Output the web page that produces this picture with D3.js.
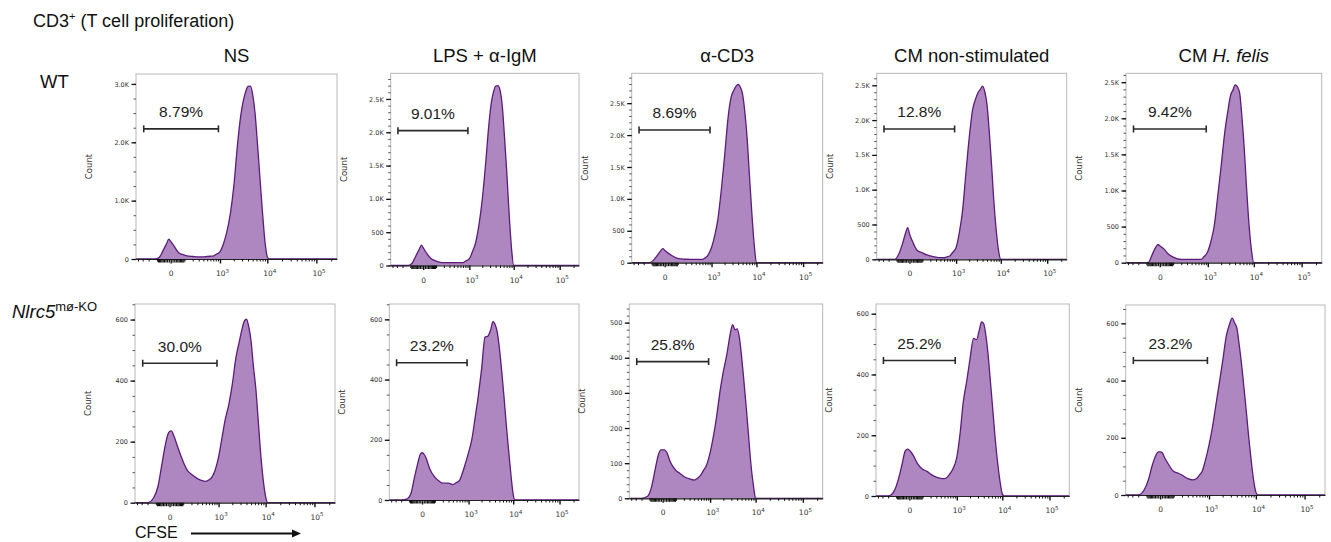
<!DOCTYPE html>
<html>
<head>
<meta charset="utf-8">
<script src="https://cdn.jsdelivr.net/npm/d3@7"></script>
<style>
  body { margin: 0; background: #fff; }
  svg { display: block; font-family: "Liberation Sans", Arial, sans-serif; }
</style>
</head>
<body>
<div class="chart"></div>
<script>
// ----------------------------
// data
// ----------------------------
var conditions = ["NS", "LPS + α-IgM", "α-CD3", "CM non-stimulated", "CM H. felis"];
var genotypes = ["WT", "Nlrc5"];

// CFSE intensity at which each histogram count was read
var cfseBins = [-450, -200, -120, -80, -50, -25, -10, 0, 10, 25, 50, 100, 150, 200, 300, 400, 500, 600, 700, 800,
  1000, 1200, 1400, 1700, 2000, 2400, 2800, 3200, 3600, 4000, 4500, 5000, 5600, 6300, 7000, 8000, 9000, 10000, 11000, 262144];

// WT row
var wtNS  = [0,0,0,24,134,254,339,302,258,195, 108,67,48,43,36,38,43,47,51,77, 128,267,447,790,1239,1954,2443,2717,2875,2956, 2962,2815,2495,1960,1436,780,283,40,0,0];
var wtLPS = [0,0,0,40,140,240,305,268,225,171, 110,67,48,43,43,43,43,43,43,64, 103,218,338,635,995,1550,2090,2440,2610,2690, 2700,2633,2400,1920,1433,740,240,0,0,0];
var wtCD3 = [0,0,0,40,111,181,220,196,172,142, 109,66,59,54,52,52,52,52,76,108, 237,436,672,1166,1670,2280,2594,2700,2766,2794, 2746,2640,2360,1940,1400,745,260,0,0,0];
var wtCM  = [0,0,0,66,200,368,455,369,298,222, 131,92,62,50,31,23,22,36,47,90, 170,395,670,1255,1730,2150,2305,2400,2446,2489, 2400,2222,1840,1350,870,400,110,0,0,0];
var wtHf  = [0,0,0,4,107,209,252,234,216,188, 131,77,53,46,46,46,46,46,46,79, 156,311,506,952,1343,1810,2100,2317,2390,2462, 2435,2355,2020,1565,1053,490,150,0,0,0];

// Nlrc5 KO row
var koNS  = [0,0,18,53,120,187,222,233,235,219, 185,134,104,93,79,72,70,75,84,100, 150,215,271,325,387,476,525,566,595,601, 574,528,445,370,273,150,69,20,0,0];
var koLPS = [0,0,4,23,76,124,152,157,153,139, 105,75,62,56,56,51,58,65,88,112, 158,203,266,350,434,541,545,565,592,584, 556,503,429,343,257,160,78,18,0,0];
var koCD3 = [0,0,6,32,80,125,138,138,138,130, 103,79,70,62,55,52,58,67,80,91, 130,179,230,308,361,411,464,494,480,482, 456,404,335,259,185,92,35,0,0,0];
var koCM  = [0,0,17,53,99,148,154,151,144,132, 109,88,81,72,62,58,57,63,75,88, 127,209,306,381,451,519,515,546,573,567, 523,461,373,281,196,107,46,7,0,0];
var koHf  = [0,0,20,55,103,138,151,151,149,132, 110,82,76,70,57,53,57,70,84,113, 174,238,306,393,467,556,596,618,601,585, 525,462,382,296,213,120,50,10,0,0];

var allSeries = [wtNS, wtLPS, wtCD3, wtCM, wtHf, koNS, koLPS, koCD3, koCM, koHf];

// proliferation gate
var gatePercents = ["8.79%", "9.01%", "8.69%", "12.8%", "9.42%", "30.0%", "23.2%", "25.8%", "25.2%", "23.2%"];
var gateRange = [-280, 920];
var gateCounts = [2230, 2024, 2080, 1872, 1852, 457, 456, 389, 446, 470];

// axis ticks
var xMajorTicks = [0, 1000, 10000, 100000];
var xZeroTicks = [-90, -80, -70, -60, -50, -40, -30, -20, -10, 10, 20, 30, 40, 50, 60, 70, 80, 90];
var xMinorTicks = [-400, -300, -200, -100, 100, 200, 300, 400, 500, 600, 700, 800, 900,
  2000, 3000, 4000, 5000, 6000, 7000, 8000, 9000,
  20000, 30000, 40000, 50000, 60000, 70000, 80000, 90000, 200000];
var yMajorSteps = [1000, 500, 500, 500, 500, 200, 200, 100, 200, 200];
var yMinorSteps = [250, 100, 100, 100, 100, 50, 50, 20, 50, 50];
var yMaxCounts = [3170, 2885, 2968, 2672, 2623, 651, 651, 553, 632, 664];

// ----------------------------
// layout
// ----------------------------
var svgWidth = 1331;
var svgHeight = 542;

var panels = [
  {left: 136,    right: 337,    top: 74,   zero: 259},
  {left: 390.7,  right: 579,    top: 73.3, zero: 265.5},
  {left: 631.7,  right: 822.7,  top: 73.3, zero: 262.7},
  {left: 876.7,  right: 1066.7, top: 73.3, zero: 259.3},
  {left: 1126,   right: 1321.7, top: 73.3, zero: 262.7},
  {left: 135,    right: 335,    top: 304,  zero: 502.7},
  {left: 389.3,  right: 579,    top: 304,  zero: 500},
  {left: 629.3,  right: 822.7,  top: 304,  zero: 498.3},
  {left: 876,    right: 1069.3, top: 304,  zero: 496},
  {left: 1125.7, right: 1325,   top: 305,  zero: 495}
];

var fillColor = "#ae86c0";
var lineColor = "#5c1c7a";

var svg = d3.select(".chart")
  .append("svg")
  .attr("width", svgWidth)
  .attr("height", svgHeight);

// main title
var mainTitle = svg.append("text")
  .attr("x", 33)
  .attr("y", 27)
  .attr("font-size", 18)
  .attr("fill", "#111");
mainTitle.append("tspan").text("CD3");
mainTitle.append("tspan").attr("dy", -7).attr("font-size", 11).text("+");
mainTitle.append("tspan").attr("dy", 7).text(" (T cell proliferation)");

// column titles
conditions.forEach(function(c, i) {
  var p = panels[i];
  var t = svg.append("text")
    .attr("x", (p.left + p.right) / 2)
    .attr("y", 62)
    .attr("text-anchor", "middle")
    .attr("font-size", 18.5)
    .attr("fill", "#111");
  if (c === "CM H. felis") {
    t.append("tspan").text("CM ");
    t.append("tspan").attr("font-style", "italic").text("H. felis");
  } else {
    t.text(c);
  }
});

// row labels
svg.append("text")
  .attr("x", 40)
  .attr("y", 88)
  .attr("font-size", 18.5)
  .attr("fill", "#111")
  .text(genotypes[0]);

var koLabel = svg.append("text")
  .attr("x", 12)
  .attr("y", 318)
  .attr("font-size", 18.5)
  .attr("fill", "#111");
koLabel.append("tspan").attr("font-style", "italic").text(genotypes[1]);
koLabel.append("tspan").attr("dy", -7).attr("font-size", 13).text("mø-KO");

// y tick label format
function countFormat(v) {
  return v >= 1000 ? (v / 1000).toFixed(1) + "K" : String(v);
}

// ----------------------------
// draw every histogram
// ----------------------------
panels.forEach(function(p, i) {
  var xScale = d3.scaleSymlog()
    .constant(111)
    .domain([-450, 262144])
    .range([p.left, p.right]);

  var yScale = d3.scaleLinear()
    .domain([0, yMaxCounts[i]])
    .range([p.zero, p.top]);

  var g = svg.append("g");

  // frame
  g.append("rect")
    .attr("x", p.left)
    .attr("y", p.top)
    .attr("width", p.right - p.left)
    .attr("height", p.zero - p.top)
    .attr("fill", "none")
    .attr("stroke", "#b8b8b8")
    .attr("stroke-width", 1);

  // histogram
  var points = cfseBins.map(function(v, j) {
    return {cfse: v, count: allSeries[i][j]};
  });

  var area = d3.area()
    .x(d => xScale(d.cfse))
    .y0(yScale(0))
    .y1(d => yScale(d.count))
    .curve(d3.curveMonotoneX);

  var line = d3.line()
    .x(d => xScale(d.cfse))
    .y(d => yScale(d.count))
    .curve(d3.curveMonotoneX);

  g.append("path")
    .attr("d", area(points))
    .attr("fill", fillColor);

  g.append("path")
    .attr("d", line(points))
    .attr("fill", "none")
    .attr("stroke", lineColor)
    .attr("stroke-width", 1.3);

  // x axis, minor ticks
  var xMinor = g.append("g")
    .attr("transform", `translate(0, ${yScale(0)})`)
    .call(d3.axisBottom(xScale).tickValues(xMinorTicks).tickSize(2.5).tickSizeOuter(0).tickFormat(""));
  xMinor.select(".domain").attr("stroke", "#222").attr("stroke-width", 1.2);
  xMinor.selectAll(".tick line").attr("stroke", "#111");

  // dense ticks around zero
  var xZero = g.append("g")
    .attr("transform", `translate(0, ${yScale(0)})`)
    .call(d3.axisBottom(xScale).tickValues(xZeroTicks).tickSize(3.5).tickSizeOuter(0).tickFormat(""));
  xZero.select(".domain").remove();
  xZero.selectAll(".tick line").attr("stroke", "#111").attr("stroke-width", 1.2);

  // x axis, major ticks
  var xMajor = g.append("g")
    .attr("transform", `translate(0, ${yScale(0)})`)
    .call(d3.axisBottom(xScale).tickValues(xMajorTicks).tickSize(4.5).tickSizeOuter(0));
  xMajor.select(".domain").remove();
  xMajor.selectAll(".tick line").attr("stroke", "#111").attr("stroke-width", 1.4);
  xMajor.selectAll(".tick text").each(function(d) {
    var t = d3.select(this)
      .text("")
      .attr("y", 17)
      .attr("dy", null)
      .attr("fill", "#333")
      .attr("font-family", "DejaVu Sans, sans-serif")
      .attr("font-size", 7.5);
    if (d === 0) {
      t.text("0");
    } else {
      t.attr("text-anchor", "start").attr("x", -4.5);
      t.append("tspan").text("10");
      t.append("tspan").attr("dy", -3.5).attr("font-size", 5.5).text(Math.round(Math.log10(d)));
    }
  });

  // y axis, minor ticks
  var yMinor = g.append("g")
    .attr("transform", `translate(${p.left}, 0)`)
    .call(d3.axisLeft(yScale).tickValues(d3.range(0, yMaxCounts[i], yMinorSteps[i])).tickSize(2.5).tickFormat(""));
  yMinor.select(".domain").remove();
  yMinor.selectAll(".tick line").attr("stroke", "#555");

  // y axis, major ticks
  var yMajor = g.append("g")
    .attr("transform", `translate(${p.left}, 0)`)
    .call(d3.axisLeft(yScale).tickValues(d3.range(0, yMaxCounts[i], yMajorSteps[i])).tickSize(4.5).tickPadding(2.5).tickFormat(countFormat));
  yMajor.select(".domain").remove();
  yMajor.selectAll(".tick line").attr("stroke", "#111").attr("stroke-width", 1.3);
  yMajor.selectAll(".tick text")
    .attr("fill", "#333")
    .attr("font-family", "DejaVu Sans, sans-serif")
    .attr("font-size", 6.5);

  // y axis title
  g.append("text")
    .attr("transform", `translate(${p.left - 44}, ${(p.top + p.zero) / 2}) rotate(-90)`)
    .attr("text-anchor", "middle")
    .attr("font-family", "DejaVu Sans, sans-serif")
    .attr("font-size", 8.5)
    .attr("fill", "#333")
    .text("Count");

  // gate bar
  var gy = yScale(gateCounts[i]);
  var gx0 = xScale(gateRange[0]);
  var gx1 = xScale(gateRange[1]);
  g.append("line")
    .attr("x1", gx0).attr("x2", gx1)
    .attr("y1", gy).attr("y2", gy)
    .attr("stroke", "#2a2a2a")
    .attr("stroke-width", 1.6);
  [gx0, gx1].forEach(function(gx) {
    g.append("line")
      .attr("x1", gx).attr("x2", gx)
      .attr("y1", gy - 3.5).attr("y2", gy + 3.5)
      .attr("stroke", "#2a2a2a")
      .attr("stroke-width", 1.6);
  });

  g.append("text")
    .attr("x", (gx0 + gx1) / 2)
    .attr("y", gy - 11.5)
    .attr("text-anchor", "middle")
    .attr("font-size", 15.5)
    .attr("fill", "#222")
    .text(gatePercents[i]);
});

// CFSE axis label with arrow
svg.append("text")
  .attr("x", 135)
  .attr("y", 538)
  .attr("font-size", 16)
  .attr("fill", "#111")
  .text("CFSE");

svg.append("line")
  .attr("x1", 191).attr("x2", 293)
  .attr("y1", 533.5).attr("y2", 533.5)
  .attr("stroke", "#111")
  .attr("stroke-width", 1.8);

svg.append("path")
  .attr("d", "M292,529.5 L301,533.5 L292,537.5 Z")
  .attr("fill", "#111");
</script>
</body>
</html>
